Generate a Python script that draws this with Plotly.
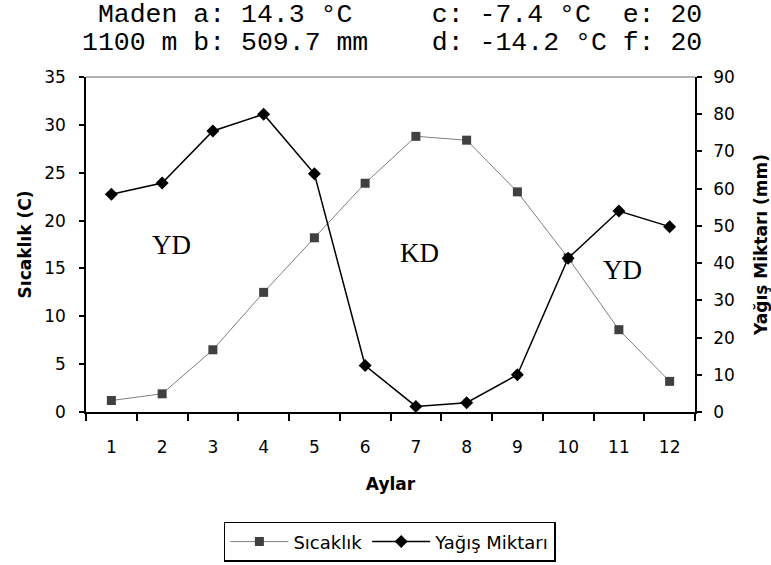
import plotly.graph_objects as go

months = list(range(1, 13))
month_labels = [str(m) for m in months]
temperature = [1.2, 1.9, 6.5, 12.5, 18.2, 23.9, 28.8, 28.4, 23.0, 16.1, 8.6, 3.2]
precipitation = [58.5, 61.5, 75.5, 80.0, 64.0, 12.5, 1.5, 2.5, 10.0, 41.3, 54.0, 49.8]
temp_ticks = list(range(0, 36, 5))
prec_ticks = list(range(0, 91, 10))

SANS = "DejaVu Sans, Liberation Sans, sans-serif"
MONO = "Liberation Mono, Courier New, monospace"
SERIF = "Liberation Serif, Times New Roman, serif"
NB = "\u00a0"

fig = go.Figure()
fig.add_trace(go.Scatter(
    x=months, y=temperature, name="Sıcaklık", mode="lines+markers",
    line=dict(color="#808080", width=1),
    marker=dict(symbol="square", size=9, color="#404040"),
    xaxis="x", yaxis="y"))
fig.add_trace(go.Scatter(
    x=months, y=precipitation, name="Yağış Miktarı", mode="lines+markers",
    line=dict(color="#000000", width=1.5),
    marker=dict(symbol="diamond", size=10, color="#000000"),
    xaxis="x", yaxis="y2"))

line1 = NB + "Maden a: 14.3 °C" + NB * 5 + "c: -7.4 °C" + NB * 2 + "e: 20"
line2 = "1100 m b: 509.7 mm" + NB * 4 + "d: -14.2 °C f: 20"

annotations = [
    dict(text=line1, x=0.503, y=1.185, xref="paper", yref="paper", showarrow=False,
         xanchor="center", yanchor="middle", height=26,
         font=dict(family=MONO, size=26.5, color="#000")),
    dict(text=line2, x=0.503, y=1.102, xref="paper", yref="paper", showarrow=False,
         xanchor="center", yanchor="middle", height=26,
         font=dict(family=MONO, size=26.5, color="#000")),
    dict(text="YD", x=2.19, y=17.4, xref="x", yref="y", showarrow=False,
         font=dict(family=SERIF, size=27, color="#000")),
    dict(text="KD", x=7.08, y=16.6, xref="x", yref="y", showarrow=False,
         font=dict(family=SERIF, size=27, color="#000")),
    dict(text="YD", x=11.08, y=14.8, xref="x", yref="y", showarrow=False,
         font=dict(family=SERIF, size=27, color="#000")),
]

tickfont = dict(family=SANS, size=17, color="#000")
titlefont = dict(family=SANS, size=17, color="#000", weight="bold")

fig.update_layout(
    width=771, height=565,
    margin=dict(l=86, r=76, t=77, b=153, autoexpand=False),
    paper_bgcolor="white", plot_bgcolor="white",
    font=dict(family=SANS, color="#000"),
    showlegend=True,
    legend=dict(orientation="h", x=0.499, y=-0.328, xanchor="center", yanchor="top",
                bordercolor="#000", borderwidth=1.5, bgcolor="white",
                font=dict(family=SANS, size=18, color="#000"),
                itemwidth=58, tracegroupgap=0),
    annotations=annotations,
    xaxis=dict(range=[0.5, 12.5], tickmode="array", tickvals=months, ticktext=month_labels,
               ticks="", showgrid=False, zeroline=False, showline=True, linecolor="#000",
               linewidth=1.5, tickfont=tickfont, ticklabelstandoff=19, automargin=False,
               minor=dict(tickmode="linear", tick0=0.5, dtick=1, ticks="outside",
                          ticklen=7, tickcolor="#000", tickwidth=1.5, showgrid=False),
               title=dict(text="Aylar", font=titlefont, standoff=22)),
    xaxis2=dict(range=[0.5, 12.5], overlaying="x", anchor="y", side="bottom",
                tickmode="linear", tick0=0.5, dtick=1, ticks="inside", ticklen=7,
                tickcolor="#000", tickwidth=1.5, showticklabels=False, showgrid=False,
                zeroline=False, showline=False, automargin=False),
    yaxis=dict(range=[0, 35], tickmode="array", tickvals=temp_ticks, ticks="outside",
               ticklen=5, tickwidth=1.5, tickcolor="#000", showgrid=False, zeroline=False,
               showline=True, linecolor="#000", linewidth=1.5, tickfont=tickfont,
               ticklabelstandoff=10, automargin=False,
               title=dict(text="Sıcaklık (C)", font=titlefont, standoff=8)),
    yaxis3=dict(range=[0, 35], overlaying="y", anchor="x", side="left",
                tickmode="array", tickvals=temp_ticks, ticks="inside", ticklen=5,
                tickwidth=1.5, tickcolor="#000", showticklabels=False, showgrid=False,
                zeroline=False, showline=False, automargin=False),
    yaxis2=dict(range=[0, 90], overlaying="y", anchor="x", side="right",
                tickmode="array", tickvals=prec_ticks, ticks="outside", ticklen=5,
                tickwidth=1.5, tickcolor="#000", showgrid=False, zeroline=False,
                showline=True, linecolor="#000", linewidth=1.5, tickfont=tickfont,
                ticklabelstandoff=8, automargin=False,
                title=dict(text="Yağış Miktarı (mm)", font=titlefont, standoff=23)),
    yaxis4=dict(range=[0, 90], overlaying="y", anchor="x", side="right",
                tickmode="array", tickvals=prec_ticks, ticks="inside", ticklen=5,
                tickwidth=1.5, tickcolor="#000", showticklabels=False, showgrid=False,
                zeroline=False, showline=False, automargin=False),
    shapes=[dict(type="line", xref="paper", yref="paper", x0=0, x1=1, y0=1, y1=1,
                 line=dict(color="#999999", width=1.5))],
)

fig.write_html("out.html", config={"displayModeBar": False},
               post_script="document.body.style.margin='0px';")
